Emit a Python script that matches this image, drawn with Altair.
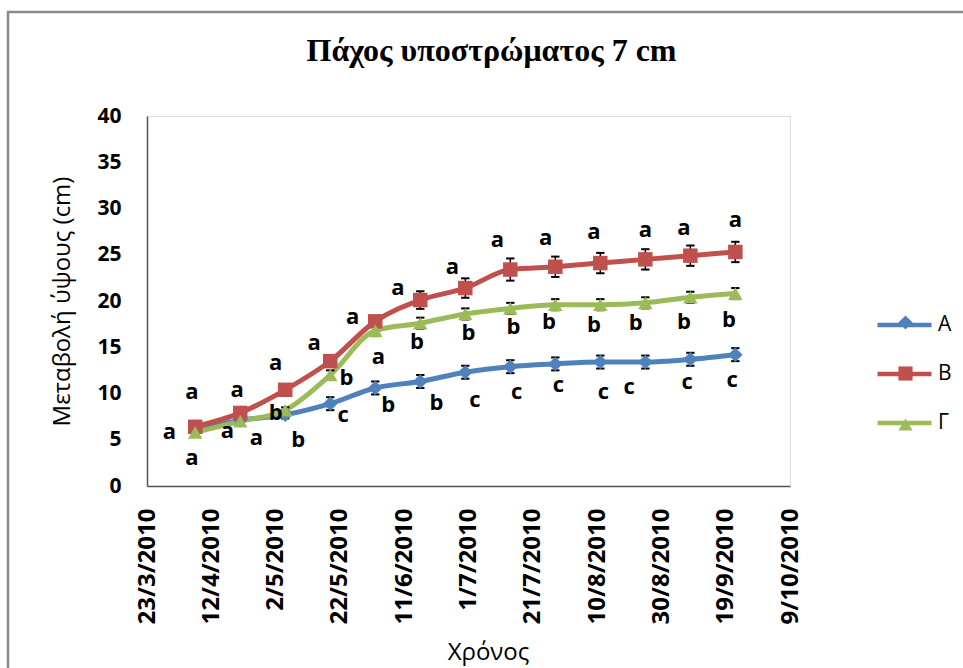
import altair as alt
import pandas as pd

# ---------------- data ----------------
dates = ["2010-04-07", "2010-04-21", "2010-05-05", "2010-05-19", "2010-06-02",
         "2010-06-16", "2010-06-30", "2010-07-14", "2010-07-28", "2010-08-11",
         "2010-08-25", "2010-09-08", "2010-09-22"]
series_names = ["A", "B", "Γ"]
vals_A = [6.0, 7.1, 7.7, 8.9, 10.6, 11.3, 12.3, 12.9, 13.2, 13.4, 13.4, 13.7, 14.2]
vals_B = [6.4, 7.9, 10.4, 13.5, 17.8, 20.1, 21.4, 23.4, 23.7, 24.1, 24.5, 24.9, 25.3]
vals_G = [5.8, 7.0, 8.2, 12.0, 16.8, 17.6, 18.6, 19.2, 19.6, 19.6, 19.8, 20.4, 20.8]
err_A = [0.3, 0.4, 0.4, 0.7, 0.7, 0.7, 0.7, 0.7, 0.7, 0.7, 0.7, 0.7, 0.7]
err_B = [0.3, 0.35, 0.4, 0.5, 0.6, 0.95, 1.05, 1.2, 1.1, 1.1, 1.1, 1.1, 1.1]
err_G = [0.3, 0.3, 0.3, 0.5, 0.6, 0.6, 0.6, 0.6, 0.6, 0.6, 0.6, 0.6, 0.6]

# significance letters (text, anchor date, anchor value in cm)
ann_text = ["a"] * 13 + [
    "a", "a", "a", "a", "b", "b", "b", "c", "a", "b", "b", "b", "b", "c",
    "b", "c", "b", "c", "b", "c", "b", "c", "b", "c", "b", "c"]
ann_date = ["2010-04-06", "2010-04-20", "2010-05-02", "2010-05-14", "2010-05-26",
            "2010-06-09", "2010-06-26", "2010-07-10", "2010-07-25", "2010-08-09",
            "2010-08-25", "2010-09-06", "2010-09-22",
            "2010-03-30", "2010-04-06", "2010-04-17", "2010-04-26", "2010-05-02",
            "2010-05-09", "2010-05-24", "2010-05-23", "2010-06-03", "2010-06-06",
            "2010-06-15", "2010-06-21", "2010-07-01", "2010-07-03", "2010-07-15",
            "2010-07-16", "2010-07-26", "2010-07-29", "2010-08-09", "2010-08-12",
            "2010-08-22", "2010-08-20", "2010-09-06", "2010-09-07", "2010-09-20",
            "2010-09-21"]
ann_cm = [10.2, 10.4, 13.3, 15.5, 18.3, 21.4, 23.7, 26.6, 26.8, 27.5, 27.7, 27.9, 28.8,
          5.8, 3.0, 6.0, 5.2, 7.9, 5.0, 11.7, 7.7, 13.9, 8.8, 15.6, 9.0, 16.5, 9.3,
          17.2, 10.2, 17.7, 10.9, 17.4, 10.2, 17.6, 10.7, 17.7, 11.2, 17.9, 11.5]

x_ticks = [(2010, 3, 23), (2010, 4, 12), (2010, 5, 2), (2010, 5, 22), (2010, 6, 11),
           (2010, 7, 1), (2010, 7, 21), (2010, 8, 10), (2010, 8, 30), (2010, 9, 19),
           (2010, 10, 9)]
y_ticks = [0, 5, 10, 15, 20, 25, 30, 35, 40]

colors = ["#4F81BD", "#C0504D", "#9BBB59"]
shapes = ["diamond", "square", "triangle-up"]

# ---------------- tables ----------------
rows = []
for name, vals, errs in zip(series_names, [vals_A, vals_B, vals_G], [err_A, err_B, err_G]):
    for d, v, e in zip(dates, vals, errs):
        rows.append({"date": d + "T00:00:00", "series": name, "value": v,
                     "lo": v - e, "hi": v + e})
df = pd.DataFrame(rows)
ann = pd.DataFrame({"date": [d + "T00:00:00" for d in ann_date], "value": ann_cm,
                    "text": ann_text})

FONT = "Open Sans"
tick_dt = [alt.DateTime(year=y, month=m, date=d) for (y, m, d) in x_ticks]

x_enc = alt.X("date:T",
              scale=alt.Scale(domain=[tick_dt[0], tick_dt[-1]]),
              axis=alt.Axis(values=tick_dt, format="%-d/%-m/%Y", labelAngle=270,
                            labelFont=FONT, labelFontWeight="bold", labelFontSize=24,
                            labelColor="black", labelPadding=22, ticks=False, grid=False,
                            domainColor="#555555", domainWidth=1.5,
                            title="Χρόνος", titleFont=FONT, titleFontSize=24,
                            titleFontWeight="normal", titleColor="black",
                            titleX=341, titleY=166, titleAlign="center",
                            titleBaseline="middle", labelOverlap=False))
y_enc = alt.Y("value:Q",
              scale=alt.Scale(domain=[0, 40], nice=False),
              axis=alt.Axis(values=y_ticks, labelFont=FONT, labelFontWeight="bold",
                            labelFontSize=21, labelColor="black", labelPadding=26,
                            ticks=False, grid=False, domainColor="#555555", domainWidth=1.5,
                            title="Μεταβολή ύψους (cm)", titleFont=FONT, titleFontSize=24,
                            titleFontWeight="normal", titleColor="black",
                            titleAngle=270, titleX=-85, titleY=185, titleAlign="center",
                            titleBaseline="middle"))

base = alt.Chart(df)

frame = alt.Chart(alt.Data(values=[{"f": 1}])).mark_rect(
    fill=None, stroke="#8a8a8a", strokeWidth=2.5).encode(
    x=alt.value(-139), x2=alt.value(830), y=alt.value(-104), y2=alt.value(600))

line_legend = alt.Legend(orient="none", legendX=728, legendY=185, title=None,
                         symbolType="stroke", symbolSize=2916, symbolStrokeWidth=4.5,
                         labelFont=FONT, labelFontSize=21, labelColor="black",
                         labelOffset=4, rowPadding=1, clipHeight=48, padding=0)
point_legend = alt.Legend(orient="none", legendX=748, legendY=196, title=None,
                          symbolSize=200, symbolStrokeWidth=0, labelOpacity=0,
                          labelFont=FONT, labelFontSize=21, rowPadding=29, padding=0)

lines = base.mark_line(strokeWidth=5, interpolate="monotone").encode(
    x=x_enc, y=y_enc,
    color=alt.Color("series:N", scale=alt.Scale(domain=series_names, range=colors),
                    legend=line_legend))

err_rule = base.mark_rule(color="black", strokeWidth=1.5).encode(
    x="date:T", y="lo:Q", y2="hi:Q")
cap_lo = base.mark_point(shape="M-1,0L1,0", size=70, color="black", strokeWidth=2,
                         filled=False, opacity=1).encode(x="date:T", y="lo:Q")
cap_hi = base.mark_point(shape="M-1,0L1,0", size=70, color="black", strokeWidth=2,
                         filled=False, opacity=1).encode(x="date:T", y="hi:Q")

points = base.mark_point(filled=True, size=210, opacity=1, strokeWidth=0).encode(
    x="date:T", y="value:Q",
    fill=alt.Fill("series:N", scale=alt.Scale(domain=series_names, range=colors),
                  legend=point_legend),
    shape=alt.Shape("series:N", scale=alt.Scale(domain=series_names, range=shapes),
                    legend=point_legend))

letters = alt.Chart(ann).mark_text(font=FONT, fontWeight="bold", fontSize=22,
                                   color="black", align="center",
                                   baseline="middle").encode(
    x="date:T", y="value:Q", text="text:N")

chart = alt.layer(frame, lines, err_rule, cap_lo, cap_hi, points, letters).resolve_scale(
    color="independent", fill="independent", shape="independent"
).properties(
    width=643, height=370,
    autosize=alt.AutoSizeParams(type="none"),
    padding={"left": 147, "top": 116, "right": 173, "bottom": 182},
    title=alt.TitleParams("Πάχος υποστρώματος 7 cm", font="Liberation Serif",
                          fontSize=32, fontWeight="bold", color="black",
                          anchor="middle", dx=23, offset=-82, baseline="alphabetic"),
).configure_view(stroke=None).configure(background="white")

chart.save("out.html", embed_options={"renderer": "svg", "actions": False})
